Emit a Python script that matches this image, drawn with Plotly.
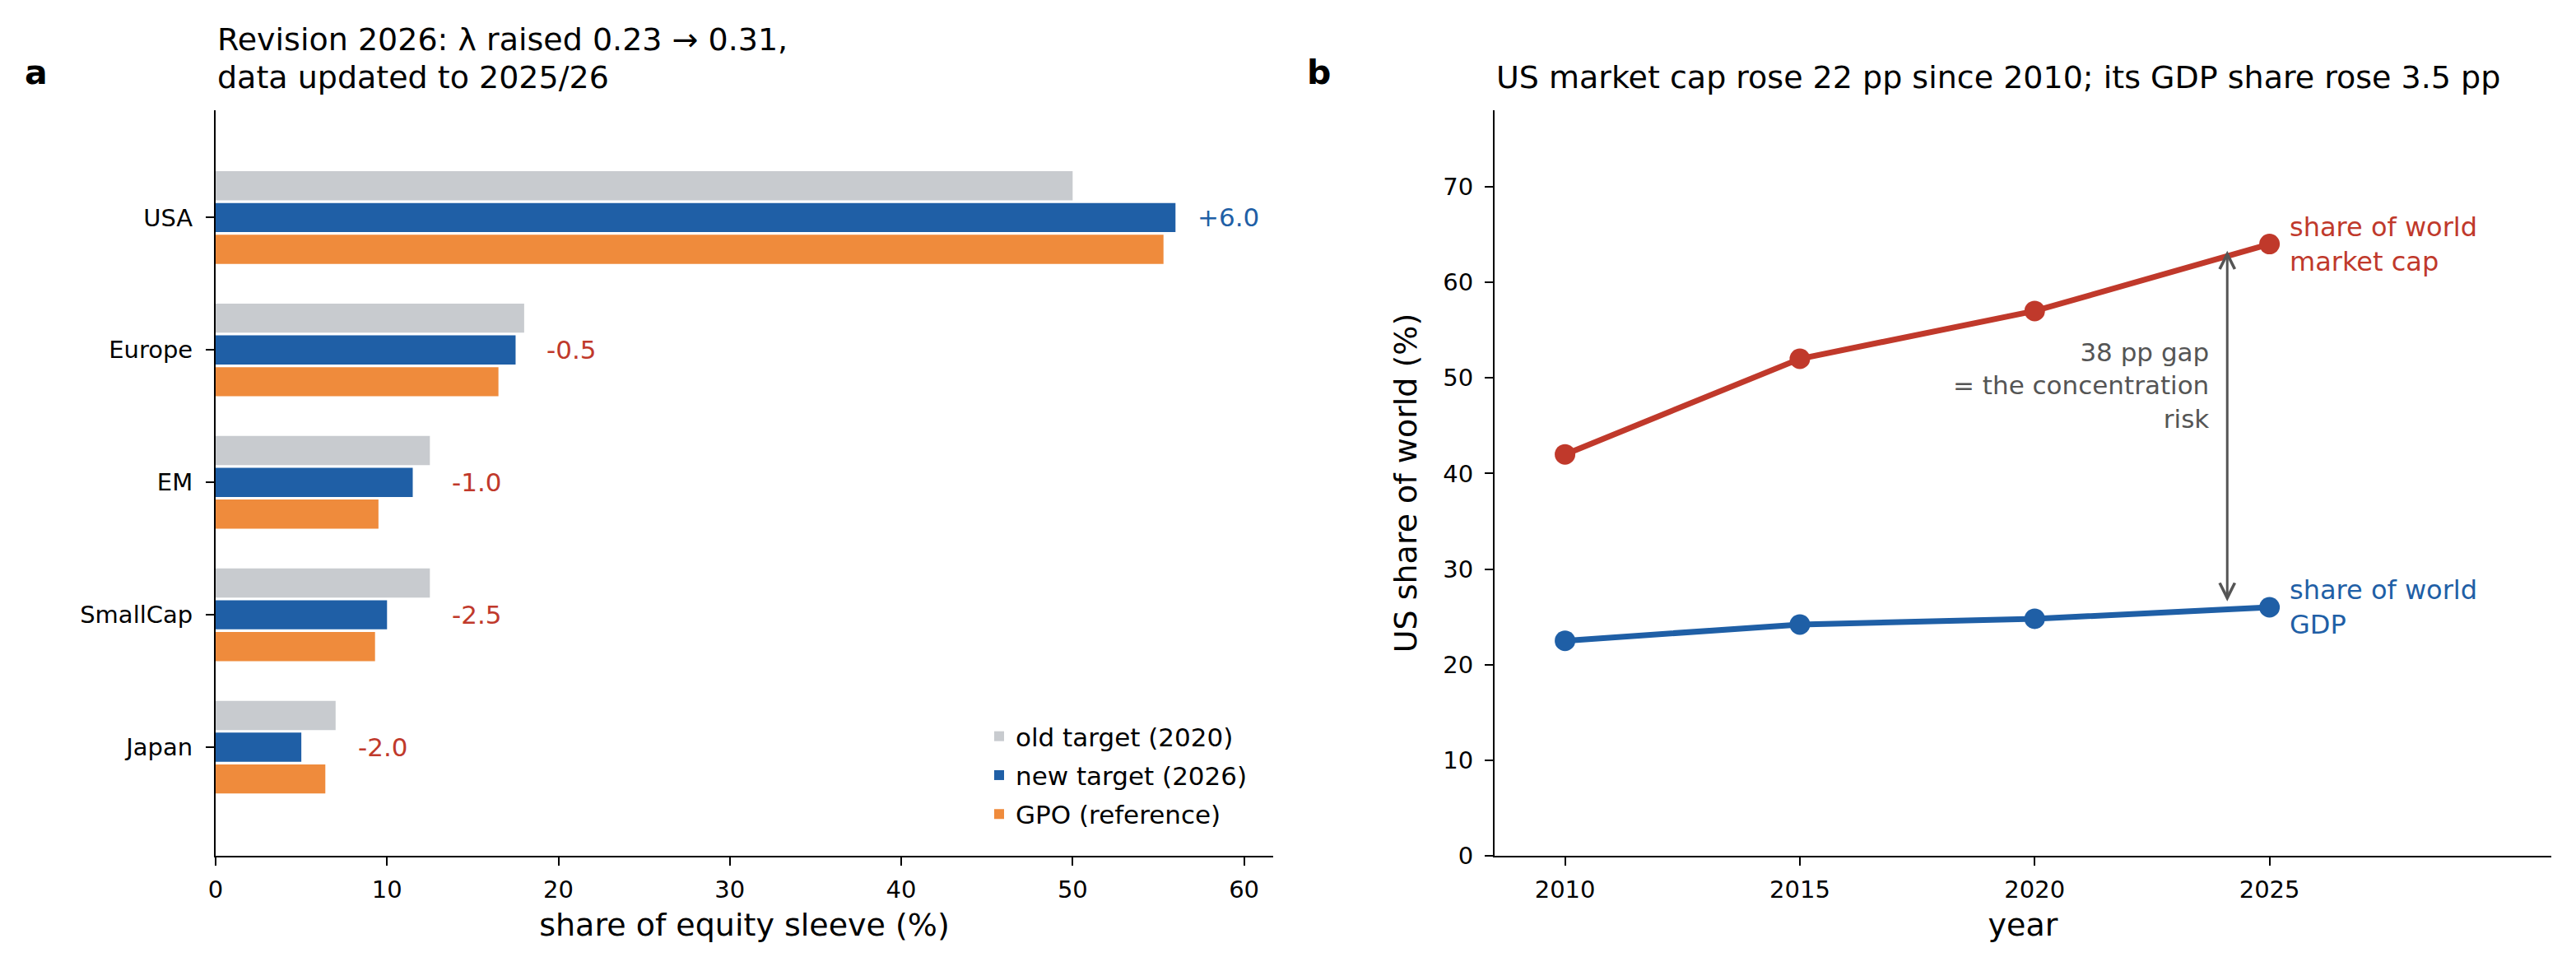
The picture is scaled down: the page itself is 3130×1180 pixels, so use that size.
import plotly.graph_objects as go

# panel a: equity sleeve weights
regions = ['USA', 'Europe', 'EM', 'SmallCap', 'Japan']
old_target = [50.0, 18.0, 12.5, 12.5, 7.0]
new_target = [56.0, 17.5, 11.5, 10.0, 5.0]
gpo_reference = [55.3, 16.5, 9.5, 9.3, 6.4]

# panel b: US share of world
years = [2010, 2015, 2020, 2025]
mcap_share = [42.0, 52.0, 57.0, 64.0]
gdp_share = [22.5, 24.2, 24.8, 26.0]

W, H = 3130, 1180
OFF = 8  # page body margin
FONT = 'DejaVu Sans'
GREY = '#c8cbcf'
BLUE = '#1f5fa6'
ORANGE = '#ef8b3c'
RED = '#c0392b'
GAP_GREY = '#555555'


def px_x(v):
    return (v - OFF) / W


def px_y(v):
    return (H - v + OFF) / H


fig = go.Figure()

bar_series = [
    ('old target (2020)', old_target, GREY),
    ('new target (2026)', new_target, BLUE),
    ('GPO (reference)', gpo_reference, ORANGE),
]
for name, vals, color in bar_series:
    fig.add_bar(
        x=vals, y=regions, orientation='h', name=name,
        marker={'color': color, 'line': {'width': 0}},
        legendgroup=name, xaxis='x', yaxis='y',
    )

fig.add_scatter(
    x=years, y=mcap_share, mode='lines+markers', showlegend=False,
    line={'color': RED, 'width': 7}, marker={'color': RED, 'size': 25},
    xaxis='x2', yaxis='y2',
)
fig.add_scatter(
    x=years, y=gdp_share, mode='lines+markers', showlegend=False,
    line={'color': BLUE, 'width': 7}, marker={'color': BLUE, 'size': 25},
    xaxis='x2', yaxis='y2',
)

annotations = []
for region, old, new in zip(regions, old_target, new_target):
    diff = new - old
    annotations.append(dict(
        x=max(old, new) + 1.2, y=region, xref='x', yref='y',
        text=f'{diff:+.1f}', showarrow=False, xanchor='left', yanchor='middle',
        font={'size': 31, 'color': BLUE if diff > 0 else RED},
    ))

annotations.append(dict(
    x=years[-1], y=mcap_share[-1], xref='x2', yref='y2', xshift=22,
    text='share of world<br>market cap', showarrow=False, xanchor='left',
    yanchor='middle', align='left', font={'size': 32, 'color': RED},
))
annotations.append(dict(
    x=years[-1], y=gdp_share[-1], xref='x2', yref='y2', xshift=22,
    text='share of world<br>GDP', showarrow=False, xanchor='left',
    yanchor='middle', align='left', font={'size': 32, 'color': BLUE},
))

# double-headed gap arrow
gap_x = years[-1] - 0.9
annotations.append(dict(
    x=gap_x, y=mcap_share[-1] - 0.7, ax=gap_x, ay=gdp_share[-1] + 0.5,
    xref='x2', yref='y2', axref='x2', ayref='y2', text='', showarrow=True,
    arrowside='end+start', arrowhead=5, startarrowhead=5, arrowsize=1.2,
    startarrowsize=1.2, arrowwidth=3, arrowcolor=GAP_GREY, standoff=0, startstandoff=0,
))
annotations.append(dict(
    x=gap_x, y=49.2, xref='x2', yref='y2', xshift=-20,
    text='38 pp gap<br>= the concentration<br>risk', showarrow=False,
    xanchor='right', yanchor='middle', align='right',
    font={'size': 31, 'color': GAP_GREY},
))

# titles and panel letters
title_lines = [
    (262, 48, 'Revision 2026: λ raised 0.23 → 0.31,'),
    (262, 94, 'data updated to 2025/26'),
    (1816, 94, 'US market cap rose 22 pp since 2010; its GDP share rose 3.5 pp'),
]
for xpos, ypos, text in title_lines:
    annotations.append(dict(
        x=px_x(xpos), y=px_y(ypos), xref='paper', yref='paper', text=text,
        showarrow=False, xanchor='left', yanchor='middle',
        font={'size': 38, 'color': 'black'},
    ))
for letter, xpos in [('a', 28), ('b', 1586)]:
    annotations.append(dict(
        x=px_x(xpos), y=px_y(88), xref='paper', yref='paper',
        text=f'<b>{letter}</b>', showarrow=False, xanchor='left', yanchor='middle',
        font={'size': 41, 'color': 'black'},
    ))

axis_common = dict(
    showline=True, linecolor='black', linewidth=2, ticks='outside', ticklen=10,
    tickwidth=2, tickcolor='black', showgrid=False, zeroline=False,
    automargin=False, tickfont={'size': 29, 'color': 'black'},
)

fig.update_layout(
    width=W, height=H,
    margin={'l': 0, 'r': 0, 't': 0, 'b': 0},
    paper_bgcolor='white', plot_bgcolor='white',
    font={'family': FONT, 'color': 'black'},
    barmode='group', bargap=0.28, bargroupgap=0.083,
    xaxis=dict(
        axis_common, domain=[px_x(262), px_x(1547)], range=[0, 61.7],
        tickvals=[0, 10, 20, 30, 40, 50, 60], anchor='y', ticklabelstandoff=4,
        title={'text': 'share of equity sleeve (%)', 'font': {'size': 38}, 'standoff': 14},
    ),
    yaxis=dict(
        axis_common, domain=[px_y(1040), px_y(134)], range=[4.82, -0.81],
        type='category', anchor='x', ticklabelstandoff=10,
    ),
    xaxis2=dict(
        axis_common, domain=[px_x(1816), px_x(3100)], range=[2008.5, 2031],
        tickvals=years, anchor='y2', ticklabelstandoff=4,
        title={'text': 'year', 'font': {'size': 38}, 'standoff': 14},
    ),
    yaxis2=dict(
        axis_common, domain=[px_y(1040), px_y(134)], range=[0, 78],
        tickvals=[0, 10, 20, 30, 40, 50, 60, 70], anchor='x2', ticklabelstandoff=8,
        title={'text': 'US share of world (%)', 'font': {'size': 38}, 'standoff': 20},
    ),
    legend=dict(
        x=px_x(1194), y=px_y(1016), xanchor='left', yanchor='bottom',
        bgcolor='rgba(0,0,0,0)', font={'size': 31}, traceorder='grouped',
        tracegroupgap=4,
    ),
    annotations=annotations,
)

fig.write_html('out.html')
